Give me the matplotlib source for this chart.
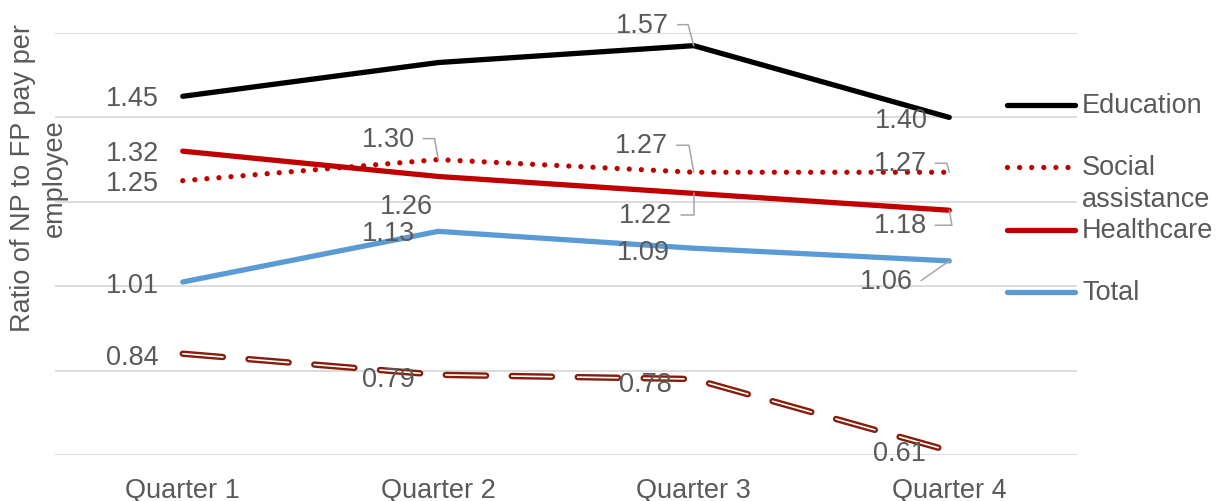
import matplotlib.pyplot as plt
import numpy as np
from matplotlib.lines import Line2D

plt.rcParams['font.family'] = ['Liberation Sans', 'DejaVu Sans']
plt.rcParams['lines.scale_dashes'] = False

# data
quarters = ['Quarter 1', 'Quarter 2', 'Quarter 3', 'Quarter 4']
education = [1.45, 1.53, 1.57, 1.40]
social = [1.25, 1.30, 1.27, 1.27]
healthcare = [1.32, 1.26, 1.22, 1.18]
total = [1.01, 1.13, 1.09, 1.06]
other = [0.84, 0.79, 0.78, 0.61]

grey = '#595959'
red = '#C00000'
blue = '#5B9BD5'
darkred = '#861C0B'
fs = 19.5

fig = plt.figure(figsize=(12.26, 5.02), dpi=100)
ax = fig.add_axes([55/1226, 1 - 456/502, 1022/1226, 422/502])

x = np.arange(len(quarters))
ax.plot(x, education, color='black', lw=3.8, solid_capstyle='round', zorder=5)
ax.plot(x, social, color=red, lw=3.8, linestyle=(0, (0.01, 8.7)),
        dash_capstyle='round', zorder=4)
ax.plot(x, healthcare, color=red, lw=3.8, solid_capstyle='round', zorder=4)
ax.plot(x, total, color=blue, lw=3.8, solid_capstyle='round', zorder=3)
# double line: dark red outer with white core
ax.plot(x, other, color=darkred, lw=4.6, linestyle=(0, (29, 18.5)),
        dash_capstyle='round', zorder=3)
ax.plot(x, other, color='white', lw=1.2, linestyle=(0, (29, 18.5)),
        dash_capstyle='round', zorder=3.5)

ax.set_xlim(-0.5, 3.5)
ax.set_ylim(0.6, 1.6)
ax.set_yticks(np.arange(0.6, 1.61, 0.2))
ax.set_yticklabels([])
ax.set_xticks(x)
ax.set_xticklabels(quarters, fontsize=fs, color=grey)
ax.tick_params(axis='both', length=0)
ax.tick_params(axis='x', pad=16)
ax.grid(axis='y', color='#D9D9D9', lw=1.3)
ax.set_axisbelow(True)
for s in ax.spines.values():
    s.set_visible(False)

fig.text(39/1226, 1 - 178/502, 'Ratio of NP to FP pay per\nemployee',
         rotation=90, ha='center', va='center', multialignment='center',
         fontsize=fs, color=grey, linespacing=1.3)

# label offsets in pixels (dx, dy) and leader angle (None = no leader)
lead_style = dict(arrowstyle='-', color='#A6A6A6', lw=1.1, shrinkA=4, shrinkB=0,
                  relpos=(1, 0.5))


def label(xi, yi, dx, dy, leader=None):
    kw = {}
    if leader is not None:
        kw['arrowprops'] = dict(lead_style,
                                connectionstyle='angle,angleA=0,angleB=%d,rad=0' % leader)
    ax.annotate('%.2f' % yi, (xi, yi), xytext=(dx, dy), textcoords='offset pixels',
                ha='center', va='center', fontsize=fs, color=grey, zorder=6,
                annotation_clip=False, **kw)


edu_off = [(-50, -2, None), None, (-51, 21, 105), (-48, -3, None)]
soc_off = [(-50, -2, None), (-50, 21, 100), (-52, 27, 100), (-49, 9, 105)]
hc_off = [(-50, -2, None), (-32, -30, None), (-48, -22, 90), (-49, -15, 100)]
tot_off = [(-50, -3, None), (-50, -2, None), (-50, -4, None), (-63, -20, 35)]
oth_off = [(-50, -3, None), (-50, -4, None), (-48, -5, None), (-50, -2, None)]

for series, offs in [(education, edu_off), (social, soc_off), (healthcare, hc_off),
                     (total, tot_off), (other, oth_off)]:
    for i, (v, o) in enumerate(zip(series, offs)):
        if o is None:
            continue
        label(x[i], v, o[0], o[1], o[2])

# legend drawn by hand so the handle sits on the first line of a wrapped label
legend_items = [
    (['Education'], dict(color='black', lw=3.8, solid_capstyle='round'), 106),
    (['Social', 'assistance'], dict(color=red, lw=3.8, linestyle=(0, (0.01, 8.7)),
                                    dash_capstyle='round'), 168),
    (['Healthcare'], dict(color=red, lw=3.8, solid_capstyle='round'), 231),
    (['Total'], dict(color=blue, lw=3.8, solid_capstyle='round'), 293),
]
for lines, style, ypx in legend_items:
    yf = 1 - ypx / 502
    fig.add_artist(Line2D([1007/1226, 1075/1226], [yf, yf],
                          transform=fig.transFigure, **style))
    for k, t in enumerate(lines):
        fig.text(1082/1226, 1 - (ypx + 32 * k) / 502, t, ha='left', va='center',
                 fontsize=fs, color=grey)

fig.savefig('out.png', dpi=100)
